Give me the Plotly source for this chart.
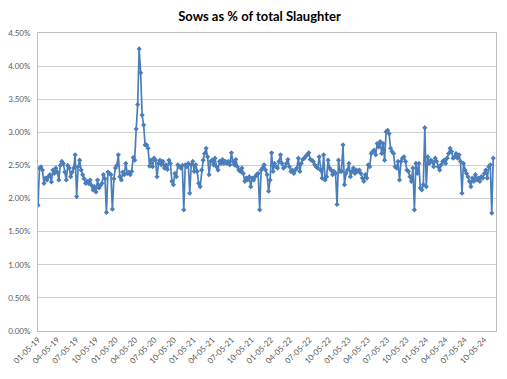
import datetime as dt
import plotly.graph_objects as go

# ---- data ----
start_date = dt.date(2019, 1, 5)
sow_share_pct = [
    1.90, 2.46, 2.48, 2.43, 2.23, 2.31, 2.28, 2.33, 2.36, 2.25,
    2.43, 2.38, 2.46, 2.40, 2.28, 2.50, 2.56, 2.53, 2.40, 2.28,
    2.50, 2.46, 2.33, 2.40, 2.46, 2.66, 2.03, 2.48, 2.58, 2.43,
    2.36, 2.30, 2.23, 2.26, 2.23, 2.28, 2.20, 2.13, 2.18, 2.10,
    2.28, 2.16, 2.20, 2.23, 2.36, 2.30, 1.79, 2.40, 2.38, 2.36,
    1.84, 2.30, 2.46, 2.50, 2.66, 2.33, 2.28, 2.40, 2.36, 2.53,
    2.38, 2.40, 2.36, 2.41, 2.62, 2.58, 3.05, 3.42, 4.26, 3.90,
    3.26, 3.11, 2.81, 2.81, 2.76, 2.49, 2.58, 2.48, 2.61, 2.58,
    2.33, 2.53, 2.58, 2.51, 2.56, 2.46, 2.51, 2.44, 2.58, 2.53,
    2.26, 2.21, 2.38, 2.33, 2.51, 2.48, 2.46, 2.50, 1.83, 2.51,
    2.48, 2.53, 2.08, 2.51, 2.56, 2.41, 2.51, 2.41, 2.23, 2.18,
    2.43, 2.58, 2.68, 2.76, 2.63, 2.36, 2.56, 2.58, 2.51, 2.61,
    2.48, 2.43,
    2.56, 2.53, 2.59, 2.53, 2.56, 2.53, 2.56, 2.51,
    2.69, 2.56, 2.51, 2.59, 2.48, 2.43, 2.41, 2.46, 2.38, 2.26,
    2.31, 2.28, 2.33, 2.18, 2.31, 2.28, 2.33, 2.36, 2.38, 1.83,
    2.43, 2.46, 2.51, 2.43, 2.36, 2.11, 2.28, 2.69, 2.41, 2.53,
    2.48, 2.46, 2.56, 2.66, 2.53, 2.46, 2.48, 2.53, 2.59, 2.48,
    2.41, 2.43, 2.38, 2.43, 2.46, 2.61, 2.41, 2.53, 2.59, 2.61,
    2.64, 2.66, 2.69, 2.59,
    2.58, 2.56, 2.51, 2.48, 2.46, 2.63,
    2.43, 2.31, 2.66, 2.28, 2.33, 2.58, 2.46, 2.43, 2.36, 2.41,
    2.38, 1.91, 2.58, 2.41, 2.41, 2.81, 2.21, 2.38, 2.43, 2.53,
    2.33, 2.41, 2.46, 2.38, 2.43, 2.41, 2.43, 2.38, 2.31, 2.26,
    2.36, 2.31, 2.51, 2.48, 2.68, 2.71, 2.73, 2.66, 2.83, 2.78,
    2.86, 2.68, 2.83, 2.58, 3.01, 3.03, 2.98, 2.76, 2.71, 2.68,
    2.48, 2.46, 2.56, 2.28, 2.56, 2.61, 2.63, 2.56, 2.43,
    2.41, 2.33, 2.26, 2.46, 1.83, 2.53, 2.38, 2.53, 2.16, 2.13, 2.21,
    3.07, 2.18, 2.63, 2.53, 2.58, 2.56, 2.48, 2.61, 2.56, 2.48,
    2.43, 2.51, 2.56, 2.58, 2.53, 2.61, 2.68, 2.76, 2.71, 2.61,
    2.63, 2.68, 2.61, 2.66, 2.56, 2.08, 2.53, 2.43, 2.38, 2.33,
    2.26, 2.18, 2.31, 2.26, 2.36, 2.28, 2.31, 2.26, 2.33, 2.31,
    2.38, 2.43, 2.31, 2.48, 2.51, 1.78, 2.61,
]
tick_dates = [dt.date(y, m, 5) for y in range(2019, 2025) for m in (1, 4, 7, 10)]
tick_labels = [d.strftime("%m-%d-%y") for d in tick_dates]

week_dates = [start_date + dt.timedelta(weeks=i) for i in range(len(sow_share_pct))]
values = [v / 100 for v in sow_share_pct]
axis_end = start_date + dt.timedelta(days=2155)

fig = go.Figure(
    go.Scatter(
        x=week_dates, y=values, mode="lines+markers",
        line=dict(color="#4a7ebb", width=1.7),
        marker=dict(symbol="diamond", size=4, color="#4a7ebb"),
        showlegend=False,
    )
)

# the page body adds an 8px offset, so margins are shifted accordingly
fig.update_layout(
    width=507, height=379,
    margin=dict(l=30, r=19, t=25, b=56, autoexpand=False),
    paper_bgcolor="white", plot_bgcolor="white",
    font=dict(family="Lato, Liberation Sans, sans-serif", size=8, color="#595959"),
    title=dict(
        text="<b>Sows as % of total Slaughter</b>",
        x=251.5 / 507, xref="container", xanchor="center",
        y=1 - 8.5 / 379, yref="container", yanchor="middle",
        font=dict(family="Lato, Liberation Sans, sans-serif", size=13, color="#000000"),
    ),
)
fig.update_xaxes(
    type="date", range=[start_date, axis_end], automargin=False,
    tickmode="array", tickvals=tick_dates, ticktext=tick_labels,
    tickangle=-45, showgrid=False, showline=True, linecolor="#bfbfbf",
    linewidth=1, mirror=True, ticks="", zeroline=False,
    tickfont=dict(size=8, color="#595959"),
)
fig.update_yaxes(
    range=[0, 0.045], dtick=0.005, tickformat=".2%", automargin=False,
    showgrid=True, gridcolor="#d0d0d0", gridwidth=1,
    showline=True, linecolor="#bfbfbf", linewidth=1, mirror=True,
    ticks="", zeroline=False, ticklabelstandoff=5,
    tickfont=dict(size=8, color="#595959"),
)

fig.write_html("out.html")
